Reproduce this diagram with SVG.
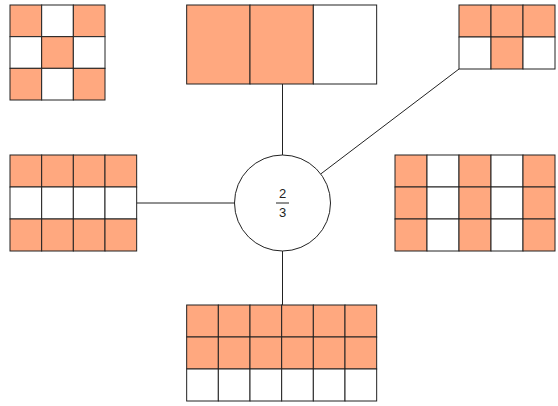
<svg xmlns="http://www.w3.org/2000/svg" width="558" height="406" viewBox="0 0 558 406">
<style>
.f{fill:#ffa87f;stroke:#222;stroke-width:1}
.w{fill:#fff;stroke:#222;stroke-width:1}
.c{stroke:#222;stroke-width:1;fill:none}
.t{font-family:"Liberation Sans",Arial,sans-serif;font-size:13px;fill:#222;text-anchor:middle}
</style>
<rect width="558" height="406" fill="#fff"/>
<g id="connectors">
<line class="c" x1="282.5" y1="84" x2="282.5" y2="155"/>
<line class="c" x1="282.5" y1="251" x2="282.5" y2="305"/>
<line class="c" x1="136.7" y1="203" x2="234.5" y2="203"/>
<line class="c" x1="459" y1="69" x2="320.7" y2="174"/>
</g>
<g id="center">
<circle cx="282.5" cy="203" r="48" fill="#fff" stroke="#222" stroke-width="1"/>
<text class="t" x="282.5" y="198">2</text>
<line class="c" x1="276" y1="203" x2="289" y2="203"/>
<text class="t" x="282.5" y="217">3</text>
</g>
<g id="grid-top-left">
<rect class="f" x="10" y="5" width="31.67" height="31.67"/>
<rect class="w" x="41.67" y="5" width="31.67" height="31.67"/>
<rect class="f" x="73.33" y="5" width="31.67" height="31.67"/>
<rect class="w" x="10" y="36.67" width="31.67" height="31.67"/>
<rect class="f" x="41.67" y="36.67" width="31.67" height="31.67"/>
<rect class="w" x="73.33" y="36.67" width="31.67" height="31.67"/>
<rect class="f" x="10" y="68.33" width="31.67" height="31.67"/>
<rect class="w" x="41.67" y="68.33" width="31.67" height="31.67"/>
<rect class="f" x="73.33" y="68.33" width="31.67" height="31.67"/>
</g>
<g id="grid-top-center">
<rect class="f" x="186.67" y="5" width="63.33" height="79"/>
<rect class="f" x="250" y="5" width="63.33" height="79"/>
<rect class="w" x="313.33" y="5" width="63.33" height="79"/>
</g>
<g id="grid-top-right">
<rect class="f" x="459" y="5" width="32" height="32"/>
<rect class="f" x="491" y="5" width="32" height="32"/>
<rect class="f" x="523" y="5" width="32" height="32"/>
<rect class="w" x="459" y="37" width="32" height="32"/>
<rect class="f" x="491" y="37" width="32" height="32"/>
<rect class="w" x="523" y="37" width="32" height="32"/>
</g>
<g id="grid-left">
<rect class="f" x="10" y="155" width="31.67" height="32"/>
<rect class="f" x="41.67" y="155" width="31.67" height="32"/>
<rect class="f" x="73.33" y="155" width="31.67" height="32"/>
<rect class="f" x="105" y="155" width="31.67" height="32"/>
<rect class="w" x="10" y="187" width="31.67" height="32"/>
<rect class="w" x="41.67" y="187" width="31.67" height="32"/>
<rect class="w" x="73.33" y="187" width="31.67" height="32"/>
<rect class="w" x="105" y="187" width="31.67" height="32"/>
<rect class="f" x="10" y="219" width="31.67" height="32"/>
<rect class="f" x="41.67" y="219" width="31.67" height="32"/>
<rect class="f" x="73.33" y="219" width="31.67" height="32"/>
<rect class="f" x="105" y="219" width="31.67" height="32"/>
</g>
<g id="grid-right">
<rect class="f" x="395" y="155" width="32" height="32"/>
<rect class="w" x="427" y="155" width="32" height="32"/>
<rect class="f" x="459" y="155" width="32" height="32"/>
<rect class="w" x="491" y="155" width="32" height="32"/>
<rect class="f" x="523" y="155" width="32" height="32"/>
<rect class="f" x="395" y="187" width="32" height="32"/>
<rect class="w" x="427" y="187" width="32" height="32"/>
<rect class="f" x="459" y="187" width="32" height="32"/>
<rect class="w" x="491" y="187" width="32" height="32"/>
<rect class="f" x="523" y="187" width="32" height="32"/>
<rect class="f" x="395" y="219" width="32" height="32"/>
<rect class="w" x="427" y="219" width="32" height="32"/>
<rect class="f" x="459" y="219" width="32" height="32"/>
<rect class="w" x="491" y="219" width="32" height="32"/>
<rect class="f" x="523" y="219" width="32" height="32"/>
</g>
<g id="grid-bottom">
<rect class="f" x="186.67" y="305" width="31.67" height="32"/>
<rect class="f" x="218.33" y="305" width="31.67" height="32"/>
<rect class="f" x="250" y="305" width="31.67" height="32"/>
<rect class="f" x="281.67" y="305" width="31.67" height="32"/>
<rect class="f" x="313.33" y="305" width="31.67" height="32"/>
<rect class="f" x="345" y="305" width="31.67" height="32"/>
<rect class="f" x="186.67" y="337" width="31.67" height="32"/>
<rect class="f" x="218.33" y="337" width="31.67" height="32"/>
<rect class="f" x="250" y="337" width="31.67" height="32"/>
<rect class="f" x="281.67" y="337" width="31.67" height="32"/>
<rect class="f" x="313.33" y="337" width="31.67" height="32"/>
<rect class="f" x="345" y="337" width="31.67" height="32"/>
<rect class="w" x="186.67" y="369" width="31.67" height="32"/>
<rect class="w" x="218.33" y="369" width="31.67" height="32"/>
<rect class="w" x="250" y="369" width="31.67" height="32"/>
<rect class="w" x="281.67" y="369" width="31.67" height="32"/>
<rect class="w" x="313.33" y="369" width="31.67" height="32"/>
<rect class="w" x="345" y="369" width="31.67" height="32"/>
</g>
</svg>
